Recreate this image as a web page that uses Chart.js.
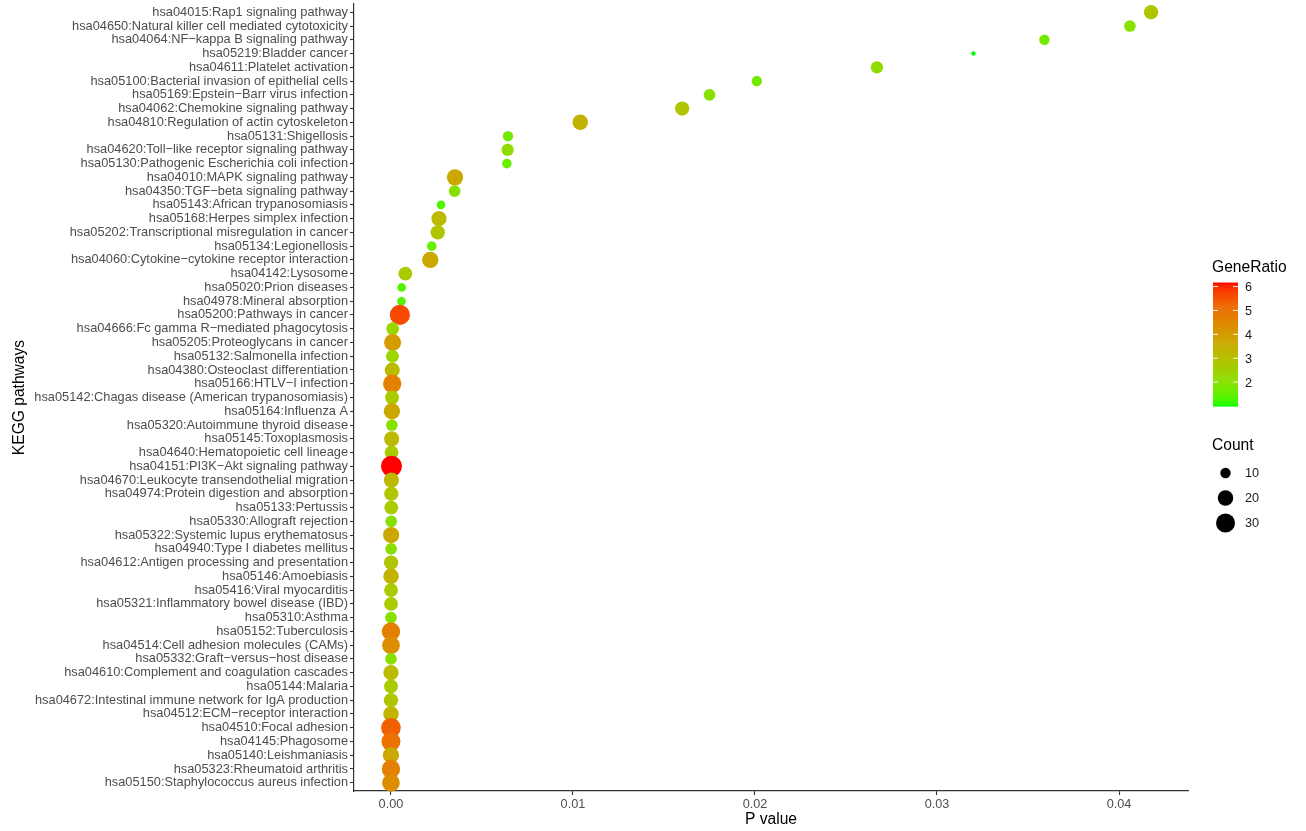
<!DOCTYPE html>
<html>
<head>
<meta charset="utf-8">
<script src="https://cdn.jsdelivr.net/npm/chart.js@4.4.1/dist/chart.umd.min.js"></script>
<style>
  html, body { margin: 0; padding: 0; background: #fff; }
  #wrap { width: 1306px; height: 831px; }
</style>
</head>
<body>
<div id="wrap"><canvas id="keggChart" width="1306" height="831"></canvas></div>
<script>
const pathways = [
    'hsa04015:Rap1 signaling pathway',
    'hsa04650:Natural killer cell mediated cytotoxicity',
    'hsa04064:NF\u2212kappa B signaling pathway',
    'hsa05219:Bladder cancer',
    'hsa04611:Platelet activation',
    'hsa05100:Bacterial invasion of epithelial cells',
    'hsa05169:Epstein\u2212Barr virus infection',
    'hsa04062:Chemokine signaling pathway',
    'hsa04810:Regulation of actin cytoskeleton',
    'hsa05131:Shigellosis',
    'hsa04620:Toll\u2212like receptor signaling pathway',
    'hsa05130:Pathogenic Escherichia coli infection',
    'hsa04010:MAPK signaling pathway',
    'hsa04350:TGF\u2212beta signaling pathway',
    'hsa05143:African trypanosomiasis',
    'hsa05168:Herpes simplex infection',
    'hsa05202:Transcriptional misregulation in cancer',
    'hsa05134:Legionellosis',
    'hsa04060:Cytokine\u2212cytokine receptor interaction',
    'hsa04142:Lysosome',
    'hsa05020:Prion diseases',
    'hsa04978:Mineral absorption',
    'hsa05200:Pathways in cancer',
    'hsa04666:Fc gamma R\u2212mediated phagocytosis',
    'hsa05205:Proteoglycans in cancer',
    'hsa05132:Salmonella infection',
    'hsa04380:Osteoclast differentiation',
    'hsa05166:HTLV\u2212I infection',
    'hsa05142:Chagas disease (American trypanosomiasis)',
    'hsa05164:Influenza A',
    'hsa05320:Autoimmune thyroid disease',
    'hsa05145:Toxoplasmosis',
    'hsa04640:Hematopoietic cell lineage',
    'hsa04151:PI3K\u2212Akt signaling pathway',
    'hsa04670:Leukocyte transendothelial migration',
    'hsa04974:Protein digestion and absorption',
    'hsa05133:Pertussis',
    'hsa05330:Allograft rejection',
    'hsa05322:Systemic lupus erythematosus',
    'hsa04940:Type I diabetes mellitus',
    'hsa04612:Antigen processing and presentation',
    'hsa05146:Amoebiasis',
    'hsa05416:Viral myocarditis',
    'hsa05321:Inflammatory bowel disease (IBD)',
    'hsa05310:Asthma',
    'hsa05152:Tuberculosis',
    'hsa04514:Cell adhesion molecules (CAMs)',
    'hsa05332:Graft\u2212versus\u2212host disease',
    'hsa04610:Complement and coagulation cascades',
    'hsa05144:Malaria',
    'hsa04672:Intestinal immune network for IgA production',
    'hsa04512:ECM\u2212receptor interaction',
    'hsa04510:Focal adhesion',
    'hsa04145:Phagosome',
    'hsa05140:Leishmaniasis',
    'hsa05323:Rheumatoid arthritis',
    'hsa05150:Staphylococcus aureus infection'
];

const pValues = [
    0.04176, 0.0406, 0.0359, 0.0320, 0.0267, 0.0201, 0.0175, 0.0160, 0.0104, 0.00643,
    0.00641, 0.00637, 0.00352, 0.00350, 0.00275, 0.00264, 0.00257, 0.00224, 0.00216, 0.00079,
    0.00059, 0.00058, 0.00049, 9.4e-5, 9.1e-5, 8.3e-5, 7.2e-5, 6.9e-5, 6.1e-5, 5.2e-5,
    4.8e-5, 3.9e-5, 3.5e-5, 2.9e-5, 2.4e-5, 2.0e-5, 1.6e-5, 1.3e-5, 1.1e-5, 8.6e-6,
    7.1e-6, 5.4e-6, 4.2e-6, 3.3e-6, 2.5e-6, 1.8e-6, 1.2e-6, 8.9e-7, 6.1e-7, 4.0e-7,
    2.7e-7, 1.5e-7, 6.8e-8, 3.1e-8, 1.2e-8, 4.6e-9, 1.1e-9
];

const counts = [
    17, 12, 10, 6, 13, 10, 12, 17, 20, 10,
    13, 9, 22, 12, 8, 19, 17, 9, 22, 16,
    8, 8, 34, 14, 24, 14, 19, 28, 16, 22,
    12, 19, 16, 37, 19, 17, 16, 12, 22, 12,
    17, 20, 16, 16, 12, 28, 26, 12, 19, 16,
    17, 20, 32, 30, 22, 28, 26
];

const geneRatio = [
    2.83, 2.00, 1.67, 1.00, 2.17, 1.67, 2.00, 2.83, 3.33, 1.67,
    2.17, 1.50, 3.67, 2.00, 1.33, 3.17, 2.83, 1.50, 3.67, 2.67,
    1.33, 1.33, 5.67, 2.33, 4.00, 2.33, 3.17, 4.67, 2.67, 3.67,
    2.00, 3.17, 2.67, 6.17, 3.17, 2.83, 2.67, 2.00, 3.67, 2.00,
    2.83, 3.33, 2.67, 2.67, 2.00, 4.67, 4.33, 2.00, 3.17, 2.67,
    2.83, 3.33, 5.33, 5.00, 3.67, 4.67, 4.33
];

const xTicks = [0, 0.01, 0.02, 0.03, 0.04];
const ratioBreaks = [2, 3, 4, 5, 6];
const countBreaks = [10, 20, 30];

const FONT = '"Liberation Sans", Arial, Helvetica, sans-serif';

// green -> red gradient interpolated in CIELAB, like ggplot's scale_colour_gradient
function toLin(c) { c /= 255; return c <= 0.04045 ? c / 12.92 : Math.pow((c + 0.055) / 1.055, 2.4); }
function toSrgb(v) {
    v = v <= 0.0031308 ? 12.92 * v : 1.055 * Math.pow(v, 1 / 2.4) - 0.055;
    return Math.round(Math.max(0, Math.min(1, v)) * 255);
}
function rgbToLab(rgb) {
    const r = toLin(rgb[0]), g = toLin(rgb[1]), b = toLin(rgb[2]);
    const x = (0.4124 * r + 0.3576 * g + 0.1805 * b) / 0.95047;
    const y = 0.2126 * r + 0.7152 * g + 0.0722 * b;
    const z = (0.0193 * r + 0.1192 * g + 0.9505 * b) / 1.08883;
    const f = t => t > 0.008856 ? Math.cbrt(t) : 7.787 * t + 16 / 116;
    const fx = f(x), fy = f(y), fz = f(z);
    return [116 * fy - 16, 500 * (fx - fy), 200 * (fy - fz)];
}
function labToRgb(lab) {
    const fy = (lab[0] + 16) / 116, fx = fy + lab[1] / 500, fz = fy - lab[2] / 200;
    const inv = t => t * t * t > 0.008856 ? t * t * t : (t - 16 / 116) / 7.787;
    const x = inv(fx) * 0.95047, y = inv(fy), z = inv(fz) * 1.08883;
    const r = 3.2406 * x - 1.5372 * y - 0.4986 * z;
    const g = -0.9689 * x + 1.8758 * y + 0.0415 * z;
    const b = 0.0557 * x - 0.2040 * y + 1.0570 * z;
    return [toSrgb(r), toSrgb(g), toSrgb(b)];
}
const labLow = rgbToLab([0, 255, 0]);
const labHigh = rgbToLab([255, 0, 0]);
const rMin = Math.min(...geneRatio), rMax = Math.max(...geneRatio);

function ratioColor(v) {
    const t = (v - rMin) / (rMax - rMin);
    const lab = labLow.map((c, i) => c + (labHigh[i] - c) * t);
    const rgb = labToRgb(lab);
    return 'rgb(' + rgb.join(',') + ')';
}

// point size: area scale between a min and max diameter (px)
const cMin = Math.min(...counts), cMax = Math.max(...counts);
function countRadius(c) {
    const dMin = 4.4, dMax = 21;
    return (dMin + (dMax - dMin) * Math.sqrt((c - cMin) / (cMax - cMin))) / 2;
}

const points = pathways.map((name, i) => ({ x: pValues[i], y: i, r: countRadius(counts[i]), ratio: geneRatio[i] }));

const legendPlugin = {
    id: 'ggLegend',
    afterDraw(chart) {
        const ctx = chart.ctx;
        ctx.save();
        ctx.textBaseline = 'middle';
        ctx.textAlign = 'left';

        // GeneRatio colourbar
        ctx.fillStyle = '#000';
        ctx.font = '15.6px ' + FONT;
        ctx.fillText('GeneRatio', 1212, 268);

        const barX = 1213, barW = 25, barTop = 282.5, barBot = 406;
        const steps = 120;
        for (let s = 0; s < steps; s++) {
            const y0 = barTop + (barBot - barTop) * s / steps;
            const v = rMax - (rMax - rMin) * (s + 0.5) / steps;
            ctx.fillStyle = ratioColor(v);
            ctx.fillRect(barX, y0, barW, (barBot - barTop) / steps + 0.6);
        }
        ctx.font = '12.7px ' + FONT;
        ratioBreaks.forEach(b => {
            const y = barBot - (b - rMin) / (rMax - rMin) * (barBot - barTop);
            ctx.strokeStyle = 'rgba(255,255,255,0.9)';
            ctx.lineWidth = 1;
            ctx.beginPath();
            ctx.moveTo(barX, y); ctx.lineTo(barX + 5, y);
            ctx.moveTo(barX + barW - 5, y); ctx.lineTo(barX + barW, y);
            ctx.stroke();
            ctx.fillStyle = '#1a1a1a';
            ctx.fillText(String(b), 1245, y + 1);
        });

        // Count size legend
        ctx.fillStyle = '#000';
        ctx.font = '15.6px ' + FONT;
        ctx.fillText('Count', 1212, 446);
        ctx.font = '12.7px ' + FONT;
        countBreaks.forEach((c, i) => {
            const y = 473 + i * 25;
            ctx.fillStyle = '#000';
            ctx.beginPath();
            ctx.arc(1225.5, y, countRadius(c), 0, Math.PI * 2);
            ctx.fill();
            ctx.fillStyle = '#1a1a1a';
            ctx.fillText(String(c), 1245, y);
        });
        ctx.restore();
    }
};

const ctx = document.getElementById('keggChart').getContext('2d');
new Chart(ctx, {
    type: 'bubble',
    data: {
        datasets: [{
            label: 'KEGG',
            data: points,
            backgroundColor: c => ratioColor(c.raw.ratio),
            borderWidth: 0,
            hoverBorderWidth: 0,
            clip: false
        }]
    },
    options: {
        responsive: false,
        animation: false,
        layout: { autoPadding: false, padding: { left: 0, right: 118, top: 4, bottom: 0 } },
        plugins: { legend: { display: false }, tooltip: { enabled: false } },
        scales: {
            x: {
                type: 'linear',
                min: -0.00203,
                max: 0.04379,
                afterBuildTicks: s => { s.ticks = xTicks.map(v => ({ value: v })); },
                afterFit: s => { s.height = 40; s.paddingLeft = 0; s.paddingRight = 0; },
                border: { display: true, color: '#333', width: 1.2 },
                grid: { display: true, drawOnChartArea: false, drawTicks: true, tickLength: 4, tickColor: '#333', tickWidth: 1.1 },
                ticks: {
                    color: '#4d4d4d',
                    padding: 2,
                    maxRotation: 0,
                    font: { family: FONT, size: 12.7 },
                    callback: v => v.toFixed(2)
                },
                title: {
                    display: true,
                    text: 'P value',
                    color: '#000',
                    font: { family: FONT, size: 15.6 },
                    padding: { top: 0, bottom: 2 }
                }
            },
            y: {
                type: 'linear',
                reverse: true,
                min: -0.6,
                max: pathways.length - 0.4,
                afterBuildTicks: s => { s.ticks = pathways.map((p, i) => ({ value: i })); },
                afterFit: s => { s.width = 354; s.paddingTop = 0; s.paddingBottom = 0; },
                border: { display: true, color: '#333', width: 1.2 },
                grid: { display: true, drawOnChartArea: false, drawTicks: true, tickLength: 4, tickColor: '#333', tickWidth: 1.1 },
                ticks: {
                    color: '#4d4d4d',
                    padding: 2,
                    autoSkip: false,
                    font: { family: FONT, size: 12.8 },
                    callback: v => pathways[v]
                },
                title: {
                    display: true,
                    text: 'KEGG pathways',
                    color: '#000',
                    font: { family: FONT, size: 15.6 },
                    padding: { top: 10, bottom: 0 }
                }
            }
        }
    },
    plugins: [legendPlugin]
});
</script>
</body>
</html>
